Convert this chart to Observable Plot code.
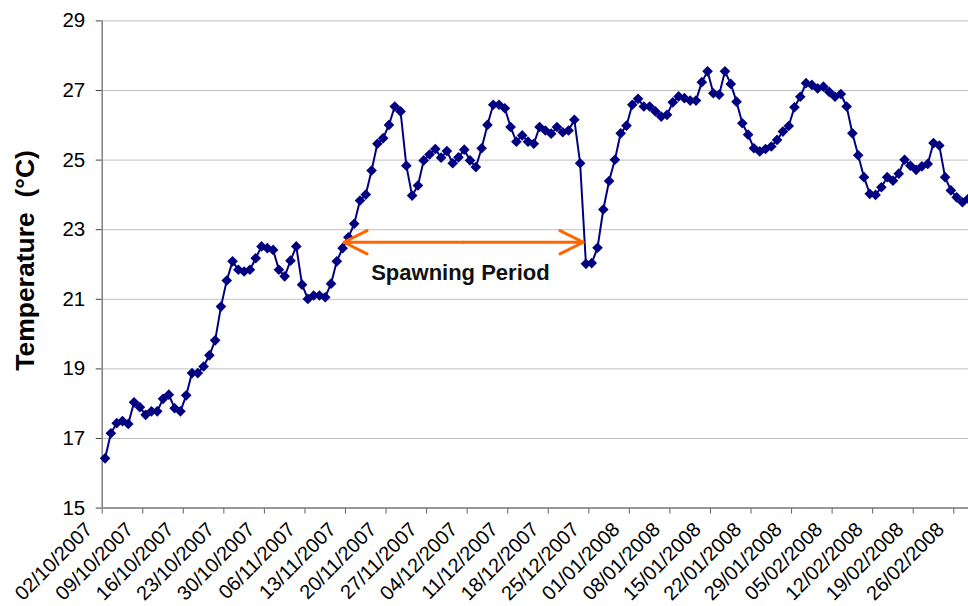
<!DOCTYPE html>
<html>
<head>
<meta charset="utf-8">
<script src="https://cdn.jsdelivr.net/npm/d3@7"></script>
<script src="https://cdn.jsdelivr.net/npm/@observablehq/plot@0.6"></script>
<style>
  html, body { margin: 0; padding: 0; background: #fff; overflow: hidden; }
</style>
</head>
<body>
<div id="chart"></div>
<script>
// ---- Data (daily water temperature) ----
const startDate = "02/10/2007";   // first daily reading
const temperatures = [
  16.43, 17.15, 17.44, 17.50, 17.42, 18.04, 17.90, 17.68, 17.78, 17.78,
  18.14, 18.26, 17.87, 17.78, 18.24, 18.88, 18.88, 19.07, 19.39, 19.82,
  20.79, 21.54, 22.09, 21.85, 21.80, 21.85, 22.18, 22.52, 22.47, 22.42,
  21.85, 21.66, 22.11, 22.52, 21.42, 21.01, 21.11, 21.11, 21.06, 21.45,
  22.09, 22.47, 22.78, 23.17, 23.84, 24.01, 24.70, 25.47, 25.63, 26.01,
  26.54, 26.40, 24.84, 23.98, 24.27, 24.99, 25.16, 25.32, 25.07, 25.26,
  24.91, 25.08, 25.30, 24.99, 24.80, 25.34, 26.01, 26.59, 26.59, 26.49,
  25.95, 25.53, 25.71, 25.53, 25.47, 25.95, 25.85, 25.76, 25.95, 25.80,
  25.85, 26.16, 24.91, 22.02, 22.04, 22.48, 23.58, 24.40, 25.01, 25.77,
  25.99, 26.59, 26.76, 26.54, 26.54, 26.40, 26.25, 26.30, 26.66, 26.83,
  26.78, 26.71, 26.71, 27.24, 27.55, 26.92, 26.88, 27.55, 27.19, 26.68,
  26.06, 25.73, 25.34, 25.25, 25.32, 25.39, 25.58, 25.82, 25.98, 26.52,
  26.82, 27.21, 27.16, 27.06, 27.11, 26.96, 26.82, 26.90, 26.54, 25.77,
  25.14, 24.51, 24.03, 24.00, 24.22, 24.51, 24.41, 24.61, 25.01, 24.84,
  24.72, 24.82, 24.89, 25.49, 25.42, 24.51, 24.13, 23.93, 23.79, 23.89
];
const xTickLabels = [
  "02/10/2007", "09/10/2007", "16/10/2007", "23/10/2007", "30/10/2007",
  "06/11/2007", "13/11/2007", "20/11/2007", "27/11/2007", "04/12/2007",
  "11/12/2007", "18/12/2007", "25/12/2007", "01/01/2008", "08/01/2008",
  "15/01/2008", "22/01/2008", "29/01/2008", "05/02/2008", "12/02/2008",
  "19/02/2008", "26/02/2008"
];
const yTicks = [15, 17, 19, 21, 23, 25, 27, 29];
const yTitle = "Temperature\u00a0\u00a0(°C)";

// Annotation: spawning period arrow and its label
const spawningLabel = "Spawning Period";
const arrowStart = "2007-11-12T17:00:00Z";
const arrowEnd = "2007-12-24T01:00:00Z";
const arrowTemp = 22.64;
const labelAt = "2007-12-02T20:00:00Z";
const labelTemp = 21.56;

// ---- Build ----
const parse = d3.utcParse("%d/%m/%Y");
const fmt = d3.utcFormat("%d/%m/%Y");
const start = parse(startDate);
const data = temperatures.map((t, i) => ({
  date: d3.utcHour.offset(d3.utcDay.offset(start, i), 12),
  temp: t
}));
const xTicks = xTickLabels.map(parse);
const xDomain = [start, d3.utcHour.offset(d3.utcDay.offset(start, 149), 13)];

const aStart = new Date(arrowStart), aEnd = new Date(arrowEnd);
const aMid = new Date((+aStart + +aEnd) / 2);
const arrows = [
  {x1: aMid, x2: aStart, y: arrowTemp},
  {x1: aMid, x2: aEnd, y: arrowTemp}
];

const chart = Plot.plot({
  width: 968,
  height: 606,
  marginLeft: 101.7,
  marginRight: 0,
  marginTop: 20.4,
  marginBottom: 98.4,
  style: {
    fontFamily: "'Liberation Sans', Arial, sans-serif",
    fontSize: "20px",
    color: "#000",
    background: "#fff"
  },
  x: {type: "utc", domain: xDomain},
  y: {domain: [15, 29]},
  marks: [
    Plot.gridY(yTicks, {stroke: "#c0c0c0", strokeOpacity: 1, strokeWidth: 1}),
    Plot.axisY(yTicks, {tickSize: 6, tickPadding: 11, label: null, stroke: "#404040", fontSize: 20.5}),
    // x tick marks only
    Plot.axisX(xTicks, {tickFormat: () => "", tickSize: 6, label: null, stroke: "#606060"}),
    // rotated x tick labels
    Plot.text(xTicks, {
      x: d => d, frameAnchor: "bottom", text: d => fmt(d),
      rotate: -45, textAnchor: "end", lineAnchor: "middle",
      dx: -13, dy: 18, fontSize: 20, fill: "#000"
    }),
    Plot.ruleX([xDomain[0]], {stroke: "#808080", strokeWidth: 1.5}),
    Plot.ruleY([15], {stroke: "#808080", strokeWidth: 1.5}),
    Plot.line(data, {x: "date", y: "temp", stroke: "#000080", strokeWidth: 2}),
    Plot.dot(data, {x: "date", y: "temp", symbol: "diamond2", r: 4.8, fill: "#000080", stroke: null}),
    Plot.arrow(arrows, {
      x1: "x1", x2: "x2", y1: "y", y2: "y",
      stroke: "#ff6600", strokeWidth: 3, headLength: 13, headAngle: 53
    }),
    Plot.text([spawningLabel], {
      x: () => new Date(labelAt), y: () => labelTemp, text: d => d,
      fontWeight: "bold", fontSize: 22, lineAnchor: "bottom", fill: "#111"
    }),
    Plot.text([yTitle], {
      frameAnchor: "left", text: d => d, rotate: -90, dx: -77, dy: -4,
      textAnchor: "middle", lineAnchor: "middle",
      fontWeight: "bold", fontSize: 26.5, fill: "#000"
    })
  ]
});
document.getElementById("chart").appendChild(chart);
</script>
</body>
</html>
